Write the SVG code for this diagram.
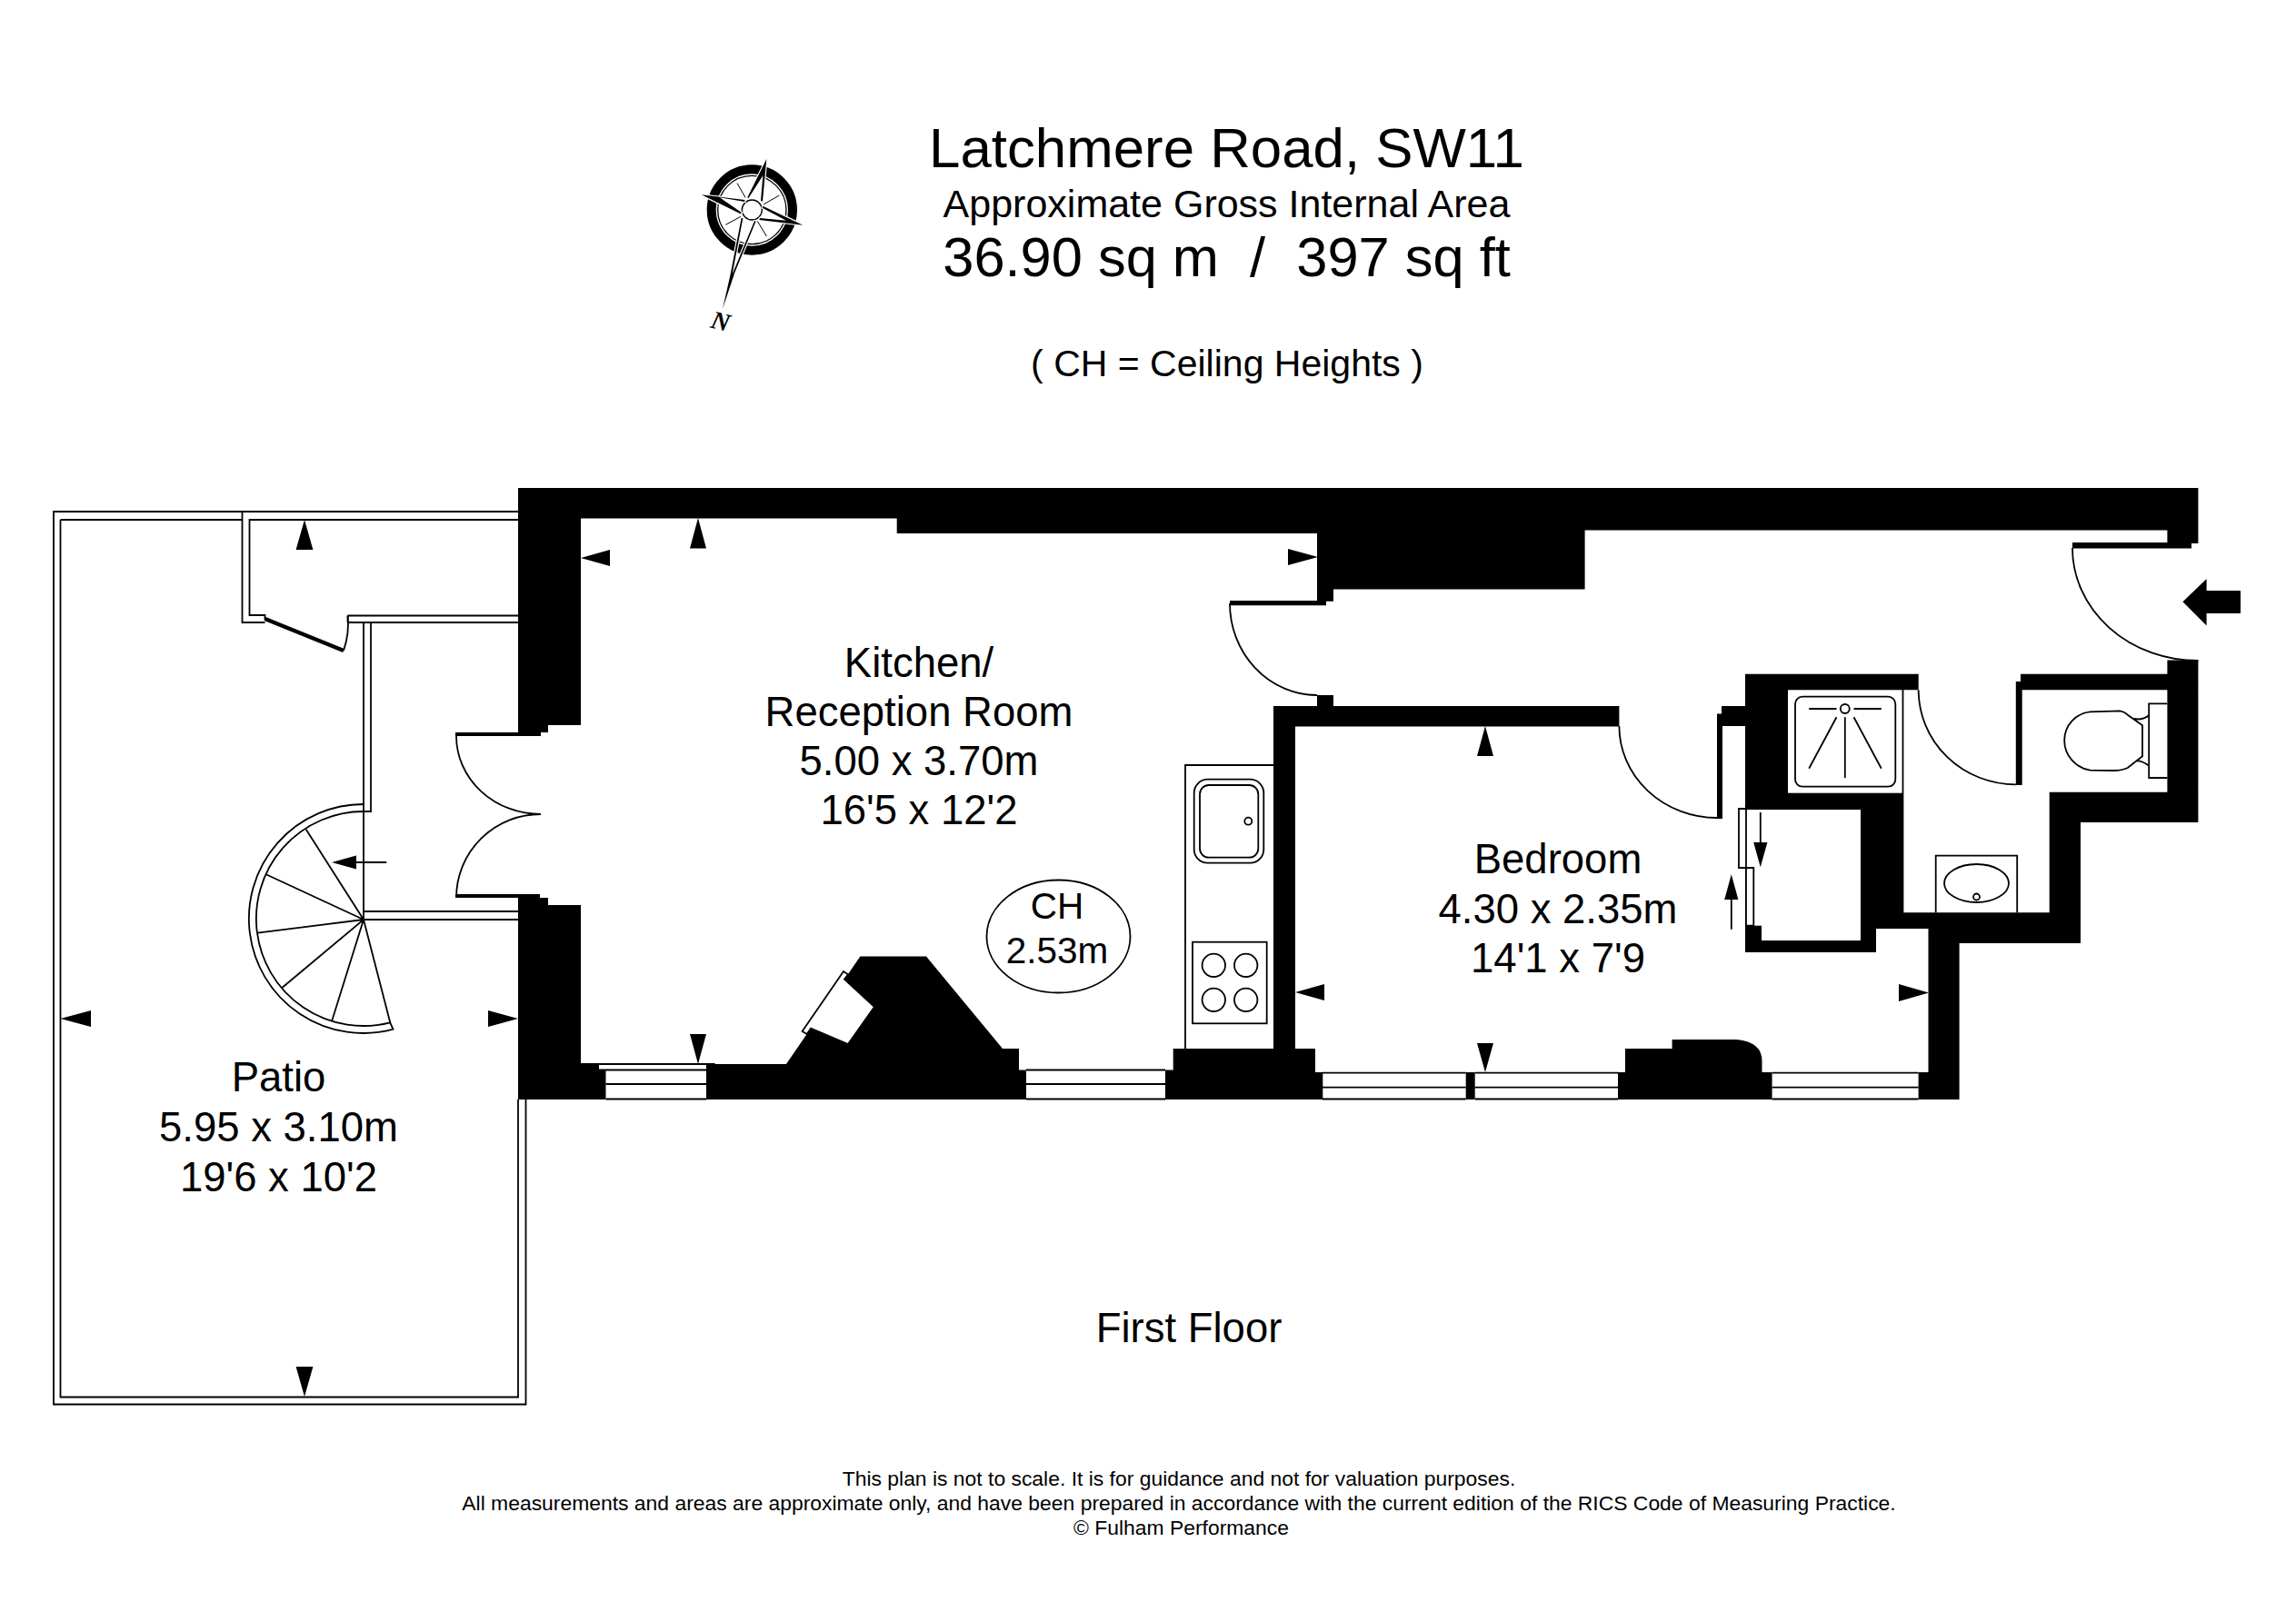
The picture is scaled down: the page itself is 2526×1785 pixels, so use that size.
<svg xmlns="http://www.w3.org/2000/svg" width="2526" height="1785" viewBox="0 0 2526 1785">
<style>
text{font-family:"Liberation Sans",Arial,sans-serif;fill:#000;text-anchor:middle}
.room{font-size:45.5px}
.w{fill:#000;stroke:none}
.l{fill:none;stroke:#000;stroke-width:1.8}
.f{fill:#fff;stroke:#000;stroke-width:1.8}
.a{fill:#000;stroke:none}
</style>
<rect width="2526" height="1785" fill="#fff"/>
<g id="header">
<text x="1349.5" y="184" font-size="61.8">Latchmere Road, SW11</text>
<text x="1349.5" y="239" font-size="43">Approximate Gross Internal Area</text>
<text x="1349.5" y="304" font-size="61.4" xml:space="preserve">36.90 sq m  /  397 sq ft</text>
<text x="1350" y="414" font-size="41">( CH = Ceiling Heights )</text>
</g>
<g id="compass" transform="translate(740 160) scale(.3333)">
<circle cx="262" cy="213" r="134" fill="none" stroke="#000" stroke-width="30"/>
<circle cx="262" cy="213" r="113" fill="none" stroke="#000" stroke-width="4"/>
<circle cx="262" cy="213" r="33" fill="none" stroke="#000" stroke-width="4"/>
<path fill="none" stroke="#000" stroke-width="3" d="M213 125L240 172M352 165L300 195M175 262L225 235M310 300L280 250"/>
<g fill="#000" stroke="#fff" stroke-width="7" paint-order="stroke">
<path d="M310 45L297 185L291 183L298 100L250 175L247 172Z"/>
<path d="M95 163L238 180L238 186L155 172L228 222L224 226Z"/>
<path d="M430 263L298 200L296 206L375 248L288 240L286 246Z"/>
<path d="M165 540L205 420L275 250L270 250L197 425L232 240L227 240L190 430Z"/>
</g>
<text x="0" y="0" font-size="84" font-weight="bold" font-style="italic" transform="translate(152 608) rotate(14)" style="font-family:'Liberation Serif',serif">N</text>
</g>
<g id="patio">
<path class="l" d="M570 563H59V1545.5H578.5V1210M570 572H274.5V677H291.5V682M66.5 572V1537.5H570V1210M66.5 572H266.5V685H291.5M266.5 563V572M382.6 677.5H570M382.6 685H570M382.6 677.5V685M400 685V1011M408 685V893H400M400 1003H570M400 1012H570"/>
<path d="M291.5 681L378 716" fill="none" stroke="#000" stroke-width="4.5"/>
<path class="l" d="M382.6 677.5A91 91 0 0 1 378 716"/>
<path class="a" d="M335 572L344.4 605H325.6ZM66.5 1121L100 1112V1130ZM570 1121L537 1112V1130ZM335 1537L325.6 1504H344.4Z"/>
<text class="room" x="306.5" y="1201">Patio</text>
<text class="room" x="306.5" y="1256">5.95 x 3.10m</text>
<text class="room" x="306.5" y="1311">19'6 x 10'2</text>
</g>
<g id="stairs">
<path class="l" d="M400 885A126 126 0 1 0 432.5 1132.7L429.2 1125.3A118 118 0 1 1 400 893"/>
<path class="l" d="M400 1012L336.7 912.7M400 1012L292.7 962.3M400 1012L283.3 1026.7M400 1012L310 1087.3M400 1012L365 1124M400 1012L429.3 1125.5"/>
<path class="l" d="M425.3 949H391"/>
<path class="a" d="M365 949L392 941.5V956.5Z"/>
</g>
<g id="walls">
<path class="w" d="M570 537H2418.4V598H2411V603.6H2280V597H2384.4V583.4H1743.6V648.6H1467V661.7H1459V666.3H1353V661H1449V587H986.7V570.4H639V798H603V806H595V810H501V806H570Z"/>
<path class="w" d="M501 984H594V988H603V996H639V1170H659V1177.5H666.5V1210H570V988H501Z"/>
<path class="w" d="M777 1210V1171H865L946.4 1052.6H1019L1103 1154H1121V1177.5H1129V1210Z"/>
<path class="w" d="M1449 765H1467V777H1781.4V799.5H1425V1154H1447V1180H1455.3V1210H1282V1177.5H1290.7V1154H1401V777H1449Z"/>
<path class="w" d="M1612.7 1180H1622.7V1210H1612.7Z"/>
<path class="w" d="M1780 1210V1180H1788V1154H1839.6V1144H1910.9Q1938.5 1147 1938.5 1167.4V1180H1949.6V1210Z"/>
<path class="w" d="M1920.5 777H1894V785.4H1889V901H1895V799H1920.5Z"/>
<path class="w" d="M1920 741.7H2110.7V759.3H2094V1004.3H2254.7V871.7H2384.4V759.3H2224.7V864H2217.8V750H2223V741.7H2384.4V726.6H2418.4V905H2289V1038H2155.6V1210H2110.6V1180H2121.5V1022H2064V1048H1920Z"/>
</g>
<g id="windows">
<path class="l" d="M666.5 1193H777M659 1171H785.7V1177.5H659M666.5 1209.5H777"/>
<path class="l" d="M1129 1177.5H1282M1129 1193H1282M1129 1209.5H1282"/>
<path class="l" d="M1455 1180.7H1612.7M1455 1196.7H1612.7M1455 1209.5H1612.7"/>
<path class="l" d="M1622.7 1180.7H1780M1622.7 1196.7H1780M1622.7 1209.5H1780"/>
<path class="l" d="M1949.6 1180.7H2110.6M1949.6 1196.7H2110.6M1949.6 1209.5H2110.6"/>
</g>
<g id="fireplace">
<path class="f" d="M928 1069L882.6 1135L887.8 1138L892 1131.6L933 1149L962 1108L929 1077.6L933 1072.4Z"/>
</g>
<g id="kitchen">
<path class="l" d="M502 810A93 86 0 0 0 595 896M502 988A93 92 0 0 1 595 896M1353 664A96 101 0 0 0 1449 765"/>
<path class="l" d="M1304 1154V842H1401"/>
<rect class="l" x="1313.7" y="857.7" width="76.6" height="92" rx="15"/>
<rect class="l" x="1320" y="864" width="64.3" height="79.7" rx="10"/>
<circle class="l" cx="1373.3" cy="903.7" r="4"/>
<rect class="l" x="1312" y="1036.7" width="81.7" height="89.6"/>
<circle class="l" cx="1335.3" cy="1062.3" r="12.7"/>
<circle class="l" cx="1370.7" cy="1062.3" r="12.7"/>
<circle class="l" cx="1335.3" cy="1100.3" r="12.7"/>
<circle class="l" cx="1370.7" cy="1100.3" r="12.7"/>
<path class="a" d="M639 614L671 605V623ZM768 570L777 603.5H759ZM768 1171L759 1138H777ZM1450 613L1417 604V622Z"/>
<text class="room" x="1011" y="745">Kitchen/</text>
<text class="room" x="1011" y="799">Reception Room</text>
<text class="room" x="1011" y="853">5.00 x 3.70m</text>
<text class="room" x="1011" y="907">16'5 x 12'2</text>
</g>
<g id="ceiling-height">
<ellipse class="l" cx="1164.5" cy="1030.5" rx="79" ry="62"/>
<text x="1163" y="1011" font-size="40.5">CH</text>
<text x="1163" y="1060" font-size="40.5">2.53m</text>
</g>
<g id="bedroom">
<path class="l" d="M1781.4 799A108 101 0 0 0 1889 900"/>
<path class="a" d="M1425 1092L1457 1083V1101ZM1634 799L1643 832H1625ZM1634 1180L1625 1148H1643ZM2122 1092.5L2089 1083V1102Z"/>
<text class="room" x="1714" y="961">Bedroom</text>
<text class="room" x="1714" y="1016">4.30 x 2.35m</text>
<text class="room" x="1714" y="1070">14'1 x 7'9</text>
</g>
<g id="closet">
<rect x="1921" y="891" width="126" height="144" fill="#fff"/>
<rect class="w" x="1921" y="1018.7" width="17" height="17"/>
<path class="f" d="M1913 890H1921V955H1913ZM1921 955H1929.3V1018.7H1921Z"/>
<path class="l" d="M1936.8 894V927M1904.8 1022.7V990"/>
<path class="a" d="M1936.8 954.3L1929.2 927H1944.4ZM1904.8 962.3L1912.4 990H1897.2Z"/>
</g>
<g id="bathroom">
<rect x="1967" y="759.3" width="126" height="113.4" fill="#fff"/>
<path class="l" d="M2093.5 759.3V1004"/>
<rect class="l" x="1975" y="766.7" width="110.3" height="99" rx="8"/>
<circle class="l" cx="2029.8" cy="780" r="5"/>
<path class="l" d="M1990.2 780H2020.5M2039.5 780H2069.8M2029.8 789.3V856M2020.5 789.3L1990.2 845.7M2039.5 789.3L2069.8 845.7"/>
<path class="l" d="M2110.7 759.3A107 104 0 0 0 2217.8 863.3"/>
<path class="l" d="M2384.4 774.3H2364.2V856H2384.4"/>
<path class="l" d="M2357 798.3V832.3L2340.8 845Q2335 848 2325 848L2299.5 847.7C2284 845 2271.2 832 2271.2 815C2271.2 798 2284 785 2299.5 783.3L2332.2 782.3Q2337 783 2340.8 786.7Z"/>
<path class="l" d="M2347.6 791Q2357 793 2364.2 787.3M2351 837.3Q2357 837 2364.2 842.7"/>
<path class="l" d="M2129.7 1004.3V941.7H2219.2V1004.3"/>
<ellipse class="l" cx="2174.5" cy="972" rx="35.5" ry="21"/>
<circle class="l" cx="2174.5" cy="987" r="3.5"/>
</g>
<g id="entrance">
<path class="l" d="M2280 603A138 124 0 0 0 2418.4 727"/>
<path class="a" d="M2401.4 662.3L2427.6 637V650H2465V675H2427.6V688.5Z"/>
</g>
<g id="footer">
<text x="1308" y="1477" font-size="45.5">First Floor</text>
<text x="1297" y="1635" font-size="22.9">This plan is not to scale. It is for guidance and not for valuation purposes.</text>
<text x="1297" y="1662" font-size="22.9">All measurements and areas are approximate only, and have been prepared in accordance with the current edition of the RICS Code of Measuring Practice.</text>
<text x="1299.5" y="1689" font-size="22.9">© Fulham Performance</text>
</g>
</svg>
